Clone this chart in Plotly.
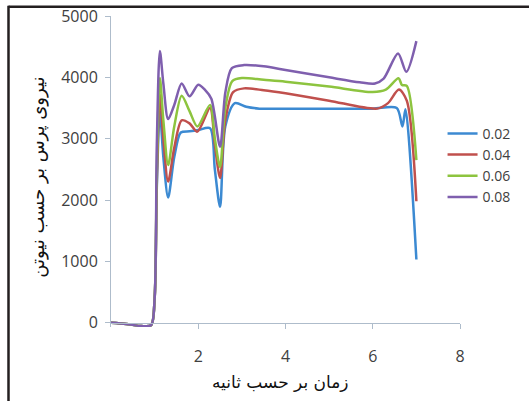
import plotly.graph_objects as go

# ---- data ----
series_names = ["0.02", "0.04", "0.06", "0.08"]

x_002 = [0, 0.35, 0.7, 0.92, 1.0, 1.05, 1.12, 1.2, 1.31, 1.45, 1.6, 1.8, 2.0, 2.27, 2.38, 2.5, 2.62, 2.84, 3.1, 3.4, 4.0, 5.0, 6.0, 6.55, 6.68, 6.75, 7.0]
y_002 = [0, -20, -55, -40, 400, 2200, 3450, 2700, 2040, 2700, 3100, 3120, 3140, 3170, 2500, 1890, 3200, 3580, 3520, 3490, 3490, 3490, 3490, 3500, 3200, 3480, 1030]

x_004 = [0, 0.35, 0.7, 0.92, 1.0, 1.05, 1.12, 1.2, 1.31, 1.45, 1.62, 1.8, 1.98, 2.27, 2.38, 2.5, 2.62, 2.8, 3.05, 3.5, 4.0, 5.0, 6.1, 6.35, 6.6, 6.78, 7.0]
y_004 = [0, -20, -55, -40, 400, 2300, 3720, 3000, 2300, 2850, 3300, 3250, 3115, 3500, 2900, 2360, 3300, 3760, 3820, 3790, 3740, 3620, 3490, 3580, 3800, 3620, 1980]

x_006 = [0, 0.35, 0.7, 0.92, 1.0, 1.05, 1.12, 1.2, 1.31, 1.45, 1.62, 1.8, 1.98, 2.27, 2.38, 2.5, 2.62, 2.78, 3.0, 3.5, 4.0, 5.0, 6.0, 6.3, 6.59, 6.67, 6.78, 7.0]
y_006 = [0, -20, -55, -40, 400, 2500, 3990, 3300, 2570, 3200, 3700, 3450, 3200, 3550, 3000, 2540, 3500, 3940, 3990, 3960, 3930, 3850, 3760, 3800, 3985, 3875, 3860, 2650]

x_008 = [0, 0.35, 0.7, 0.92, 1.0, 1.05, 1.12, 1.2, 1.31, 1.45, 1.62, 1.8, 2.0, 2.15, 2.3, 2.5, 2.62, 2.77, 3.05, 3.5, 4.0, 5.0, 5.7, 6.05, 6.25, 6.58, 6.77, 7.0]
y_008 = [0, -20, -55, -40, 400, 2900, 4430, 3900, 3320, 3550, 3900, 3690, 3880, 3800, 3650, 2870, 3750, 4150, 4200, 4180, 4120, 4000, 3920, 3900, 3980, 4390, 4090, 4590]

x_ticks = [2, 4, 6, 8]
y_ticks = [0, 1000, 2000, 3000, 4000, 5000]

x_title = "زمان بر حسب ثانیه"
y_title = "نیروی پرس بر حسب نیوتن"

colors = ["#3C8AD2", "#C0504D", "#8DC43F", "#7F5FAE"]

xs = [x_002, x_004, x_006, x_008]
ys = [y_002, y_004, y_006, y_008]

fig = go.Figure()
for name, xv, yv, c in zip(series_names, xs, ys, colors):
    fig.add_trace(go.Scatter(
        x=xv, y=yv, name=name, mode="lines",
        line=dict(color=c, width=2.5, shape="spline", smoothing=0.8),
    ))

axis_col = "#AEBCCB"
tick_font = dict(family="Open Sans", size=16, color="#404040")

fig.update_layout(
    width=529, height=401,
    margin=dict(l=111, r=69, t=16, b=74, autoexpand=False),
    paper_bgcolor="white", plot_bgcolor="white",
    showlegend=True,
    legend=dict(
        x=0.95, xanchor="left", y=0.52, yanchor="middle",
        font=dict(family="Open Sans", size=14, color="#404040"),
        bgcolor="rgba(0,0,0,0)", itemwidth=30, tracegroupgap=0,
    ),
    xaxis=dict(
        range=[0, 8], tickvals=x_ticks, ticktext=[str(v) for v in x_ticks],
        showgrid=False, zeroline=False, showline=True, linecolor=axis_col, linewidth=1,
        ticks="outside", ticklen=5, tickcolor=axis_col,
        anchor="free", position=70 / 5070, automargin=False,
        ticklabelstandoff=14, tickfont=tick_font,
    ),
    yaxis=dict(
        range=[-70, 5000], tickvals=y_ticks, automargin=False,
        showgrid=False, zeroline=False, showline=True, linecolor=axis_col, linewidth=1,
        ticks="outside", ticklen=5, tickcolor=axis_col,
        tickfont=tick_font, ticklabelstandoff=4,
    ),
    annotations=[
        dict(text=x_title, xref="paper", yref="paper", x=0.487, y=-0.176,
             xanchor="center", yanchor="middle", showarrow=False,
             font=dict(family="DejaVu Sans", size=17, color="#111111")),
        dict(text=y_title, xref="paper", yref="paper", x=-0.209, y=0.48,
             xanchor="center", yanchor="middle", showarrow=False, textangle=-90,
             font=dict(family="DejaVu Sans", size=18, color="#111111")),
    ],
    shapes=[
        dict(type="line", xref="paper", yref="paper",
             x0=-0.2937, x1=-0.2937, y0=-0.26, y1=1.033,
             line=dict(color="#231F20", width=2.5)),
        dict(type="line", xref="paper", yref="paper",
             x0=-0.2937, x1=1.22, y0=1.03, y1=1.03,
             line=dict(color="#231F20", width=2.5)),
    ],
)

fig.write_html("out.html", config={"displayModeBar": False},
               post_script="document.body.style.margin='0';")
